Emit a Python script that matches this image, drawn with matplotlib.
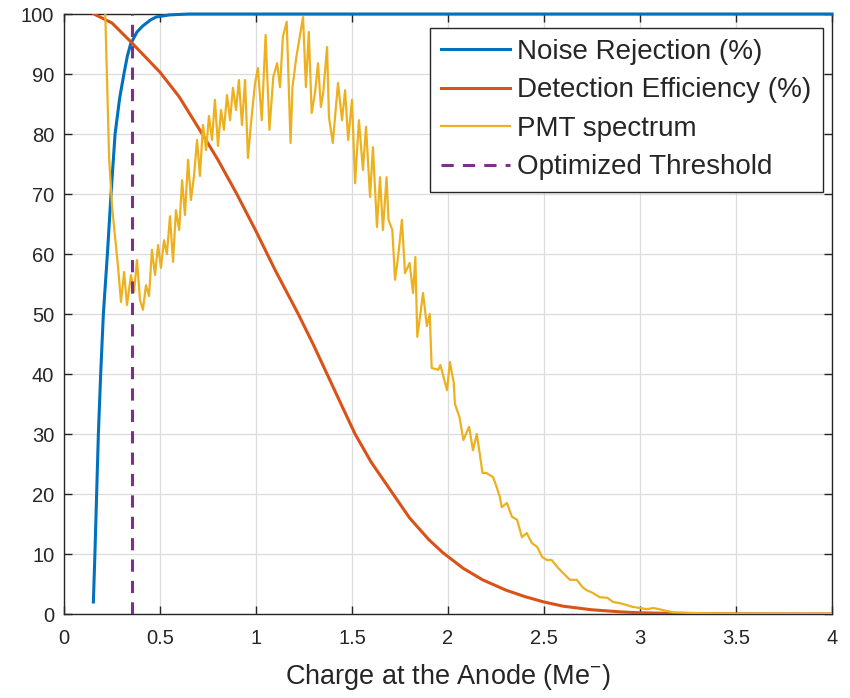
import matplotlib
matplotlib.use("Agg")
import matplotlib.pyplot as plt

plt.rcParams['font.family'] = ['Liberation Sans', 'DejaVu Sans']
plt.rcParams['mathtext.fontset'] = 'custom'
plt.rcParams['mathtext.rm'] = 'Liberation Sans'
plt.rcParams['mathtext.it'] = 'Liberation Sans'

# noise rejection (%)
nr_x = [0.153, 0.161, 0.17, 0.179, 0.191, 0.205, 0.226, 0.245, 0.266, 0.29,
        0.312, 0.33, 0.347, 0.38, 0.41, 0.45, 0.48, 0.55, 0.65, 4.0]
nr_y = [2, 10, 20, 30, 40, 50, 60, 70, 80, 86,
        90, 93, 95, 97, 98, 99, 99.5, 99.85, 100, 100]

# detection efficiency (%)
de_x = [0.156, 0.25, 0.35, 0.5, 0.6, 0.72, 0.8, 0.9, 1.0, 1.1, 1.22, 1.3,
        1.37, 1.45, 1.516, 1.6, 1.714, 1.8, 1.9, 1.974, 2.08, 2.18, 2.3, 2.4,
        2.5, 2.6, 2.75, 2.9, 3.0, 3.2, 3.5, 4.0]
de_y = [100, 98.5, 95.3, 90.3, 86.2, 80, 75.8, 70, 63.8, 57.3, 50, 44.8,
        40, 34.5, 30, 25.3, 20, 16.0, 12.4, 10.2, 7.6, 5.7, 4.0, 2.9,
        2.0, 1.3, 0.7, 0.35, 0.2, 0.08, 0.02, 0]

# PMT spectrum (normalised)
pmt_x = [0.215, 0.225, 0.235, 0.25, 0.266, 0.281, 0.297, 0.313, 0.328, 0.349,
         0.365, 0.38, 0.396, 0.411, 0.427, 0.443, 0.458, 0.474, 0.49, 0.505,
         0.521, 0.536, 0.552, 0.568, 0.583, 0.6, 0.615, 0.63, 0.646, 0.661,
         0.677, 0.693, 0.708, 0.724, 0.74, 0.755, 0.771, 0.786, 0.802, 0.818,
         0.833, 0.849, 0.865, 0.88, 0.896, 0.911, 0.927, 0.943, 0.958, 0.974,
         0.995, 1.01, 1.03, 1.05, 1.07, 1.09, 1.11, 1.125, 1.14, 1.16,
         1.18, 1.19, 1.21, 1.245, 1.26, 1.275, 1.29, 1.307, 1.323, 1.338,
         1.35, 1.37, 1.38, 1.40, 1.427, 1.448, 1.464, 1.48, 1.5, 1.516,
         1.536, 1.557, 1.573, 1.594, 1.609, 1.63, 1.646, 1.661, 1.68, 1.69,
         1.71, 1.724, 1.74, 1.76, 1.776, 1.80, 1.818, 1.83, 1.84, 1.854,
         1.87, 1.89, 1.905, 1.915, 1.95, 1.96, 1.995, 2.01, 2.03, 2.036,
         2.06, 2.08, 2.11, 2.13, 2.15, 2.18, 2.2, 2.235, 2.255, 2.27,
         2.28, 2.307, 2.333, 2.36, 2.385, 2.41, 2.437, 2.464, 2.49, 2.516,
         2.54, 2.57, 2.6, 2.635, 2.67, 2.70, 2.72, 2.755, 2.79, 2.83,
         2.86, 2.896, 2.93, 2.96, 3.0, 3.036, 3.07, 3.1, 3.14, 3.17,
         3.25, 3.35, 3.5, 3.7, 4.0]
pmt_y = [100, 88, 76, 68, 62.8, 58, 52, 57, 51.5, 56.5,
         53.7, 59, 52.3, 50.7, 54.8, 53, 60.7, 56.5, 61.5, 57.7,
         62.3, 60, 66.3, 58.7, 67.3, 64, 72.3, 66.5, 75.7, 69,
         73, 79, 73, 81.5, 77.3, 83, 79, 85.7, 78, 84,
         80.7, 86.5, 82.3, 87.7, 84, 89, 81.5, 89, 76, 81.8,
         88.5, 91, 82.3, 96.5, 80.7, 89.5, 91.8, 87.8, 96.2, 98.7,
         78.5, 87.8, 92.8, 99.5, 87.8, 97, 83.5, 86.8, 91.8, 84.5,
         86.8, 94.5, 82.8, 78.5, 88.5, 82.3, 87.3, 79, 85.7, 71.8,
         82.3, 74, 81.2, 69.5, 77.8, 64.5, 72.8, 64, 72.8, 65.7,
         64, 55.7, 59.5, 65.7, 56.8, 58.5, 53.5, 59.5, 46.2, 49.5,
         53.5, 48, 50, 41, 40.7, 41.5, 37.3, 42, 38.5, 35,
         32.8, 29, 31.2, 27.3, 30, 23.5, 23.5, 22.8, 21, 19.5,
         17.8, 18.5, 16.2, 15.7, 12.8, 13.5, 11.8, 11.2, 9.5, 9,
         9, 7.8, 6.8, 5.7, 5.7, 4.5, 4, 3.5, 2.8, 2.7,
         2, 1.8, 1.5, 1.2, 1.0, 0.8, 1.0, 0.8, 0.5, 0.3,
         0.2, 0.1, 0.05, 0.02, 0]

threshold = 0.353

fig = plt.figure(figsize=(8.5, 6.98), dpi=100)
ax = fig.add_axes([64 / 850, 1 - 614 / 698, 768 / 850, 600 / 698])

ax.plot(nr_x, nr_y, color='#0072BD', lw=2.2, label='Noise Rejection (%)', clip_on=False, zorder=3)
ax.plot(de_x, de_y, color='#D95319', lw=2.2, label='Detection Efficiency (%)', zorder=3)
ax.plot(pmt_x, pmt_y, color='#EDB120', lw=1.6, label='PMT spectrum', zorder=3)
ax.plot([threshold, threshold], [0, 100], color='#7E2F8E', lw=2.2, ls=(0, (4, 3)),
        label='Optimized Threshold', zorder=4)

ax.set_xlim(0, 4)
ax.set_ylim(0, 100)
ax.set_xticks([0, 0.5, 1, 1.5, 2, 2.5, 3, 3.5, 4])
ax.set_xticklabels(['0', '0.5', '1', '1.5', '2', '2.5', '3', '3.5', '4'])
ax.set_yticks(range(0, 101, 10))
ax.grid(True, color='#dcdcdc', lw=0.9)
ax.set_axisbelow(True)
ax.tick_params(direction='in', top=True, right=True, length=6, width=1,
               labelsize=14.5, colors='#262626', pad=7)
ax.tick_params(axis='x', pad=11)
for s in ax.spines.values():
    s.set_color('#262626')
    s.set_linewidth(1)

ax.set_xlabel('Charge at the Anode (Me$^{-}$)', fontsize=19.5, color='#262626', labelpad=10)

leg = ax.legend(loc='upper right', bbox_to_anchor=(0.988, 0.977), borderaxespad=0,
                fontsize=20, fancybox=False, framealpha=1, edgecolor='#262626',
                handlelength=2.5, handletextpad=0.25, labelspacing=0.45,
                borderpad=0.4)
leg.get_frame().set_linewidth(1)
for t in leg.get_texts():
    t.set_color('#262626')

fig.savefig('out.png', dpi=100)
